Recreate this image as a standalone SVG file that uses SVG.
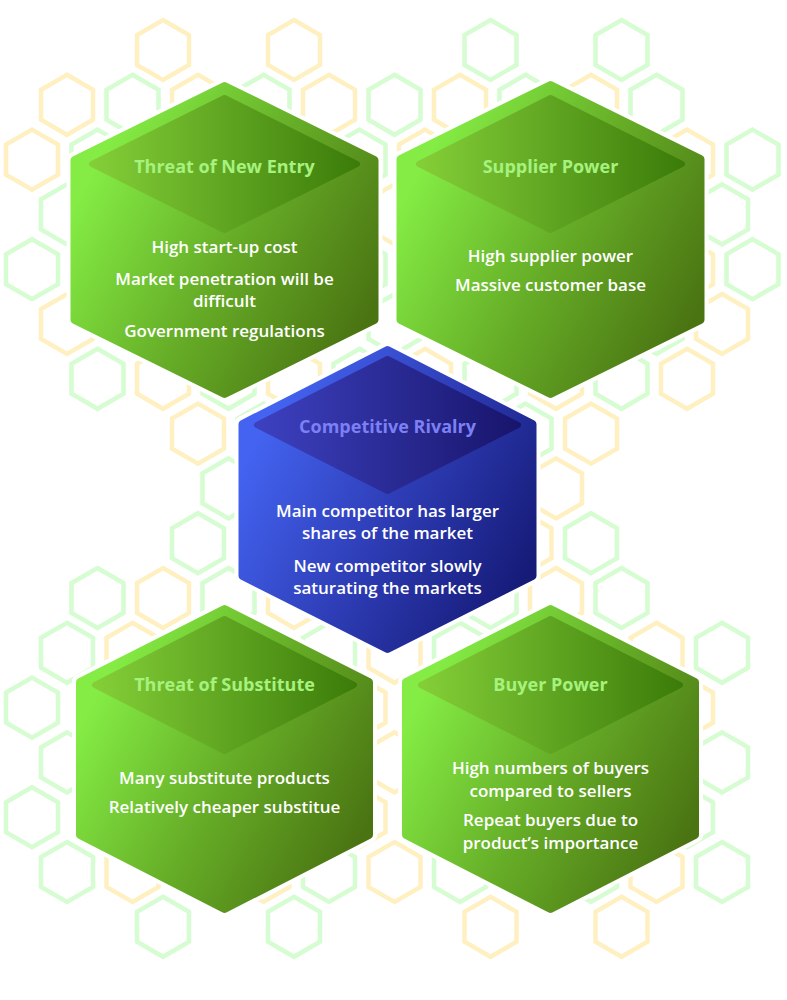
<svg xmlns="http://www.w3.org/2000/svg" xmlns:xlink="http://www.w3.org/1999/xlink" width="787" height="1000" viewBox="0 0 787 1000">
  <defs>
    <!-- small honeycomb cell used for the backdrop -->
    <path id="cell" d="M0,-30 L26,-15 L26,15 L0,30 L-26,15 L-26,-15Z"/>
    <linearGradient id="greenBody" x1="0.05" y1="0.3" x2="0.95" y2="0.8">
      <stop offset="0" stop-color="#84EC44"/>
      <stop offset="0.5" stop-color="#66AD27"/>
      <stop offset="1" stop-color="#4A7412"/>
    </linearGradient>
    <linearGradient id="greenCap" x1="0" y1="0" x2="1" y2="0">
      <stop offset="0" stop-color="#84CF38"/>
      <stop offset="1" stop-color="#3C7C0A"/>
    </linearGradient>
    <linearGradient id="blueBody" x1="0.05" y1="0.3" x2="0.95" y2="0.8">
      <stop offset="0" stop-color="#4363F0"/>
      <stop offset="0.5" stop-color="#2E3DB6"/>
      <stop offset="1" stop-color="#161B78"/>
    </linearGradient>
    <linearGradient id="blueCap" x1="0" y1="0" x2="1" y2="0">
      <stop offset="0" stop-color="#3D41C0"/>
      <stop offset="1" stop-color="#18156C"/>
    </linearGradient>
  </defs>
  <style>
    .cy { fill: none; stroke: #FFF0C2; stroke-width: 4.5; }
    .cg { fill: none; stroke: #D6FCD1; stroke-width: 4.5; }
    .halo { fill: #FFFFFF; stroke: #FFFFFF; stroke-width: 16; stroke-linejoin: round; }
    .gbody { fill: url(#greenBody); stroke: url(#greenBody); stroke-width: 8; stroke-linejoin: round; }
    .gcap { fill: url(#greenCap); stroke: url(#greenCap); stroke-width: 6; stroke-linejoin: round; }
    .bbody { fill: url(#blueBody); stroke: url(#blueBody); stroke-width: 8; stroke-linejoin: round; }
    .bcap { fill: url(#blueCap); stroke: url(#blueCap); stroke-width: 6; stroke-linejoin: round; }
    text { font-family: "Open Sans", "Liberation Sans", sans-serif; text-anchor: middle; }
    .head { font-size: 18px; font-weight: 700; }
    .ghead { fill: #A6F27E; }
    .bhead { fill: #7C80F4; }
    .body { font-size: 17px; font-weight: 600; fill: #FFFFFF; }
  </style>

  <rect width="787" height="1000" fill="#FFFFFF"/>

  <!-- honeycomb backdrop -->
  <g id="backdrop">
    <use href="#cell" x="163" y="50" class="cy"/>
    <use href="#cell" x="294" y="50" class="cy"/>
    <use href="#cell" x="490.5" y="50" class="cg"/>
    <use href="#cell" x="621.5" y="50" class="cg"/>

    <use href="#cell" x="67" y="104.8" class="cy"/>
    <use href="#cell" x="132.5" y="104.8" class="cg"/>
    <use href="#cell" x="198" y="104.8" class="cy"/>
    <use href="#cell" x="263.5" y="104.8" class="cg"/>
    <use href="#cell" x="329" y="104.8" class="cy"/>
    <use href="#cell" x="394.5" y="104.8" class="cg"/>
    <use href="#cell" x="460" y="104.8" class="cy"/>
    <use href="#cell" x="525.5" y="104.8" class="cg"/>
    <use href="#cell" x="591" y="104.8" class="cy"/>
    <use href="#cell" x="656.5" y="104.8" class="cg"/>

    <use href="#cell" x="32" y="159.6" class="cy"/>
    <use href="#cell" x="97.5" y="159.6" class="cg"/>
    <use href="#cell" x="359.5" y="159.6" class="cg"/>
    <use href="#cell" x="425" y="159.6" class="cy"/>
    <use href="#cell" x="687" y="159.6" class="cy"/>
    <use href="#cell" x="752.5" y="159.6" class="cg"/>

    <use href="#cell" x="67" y="214.4" class="cg"/>
    <use href="#cell" x="394.5" y="214.4" class="cy"/>
    <use href="#cell" x="722" y="214.4" class="cg"/>

    <use href="#cell" x="32" y="269.2" class="cg"/>
    <use href="#cell" x="359.5" y="269.2" class="cg"/>
    <use href="#cell" x="687" y="269.2" class="cy"/>
    <use href="#cell" x="752.5" y="269.2" class="cg"/>

    <use href="#cell" x="67" y="324" class="cy"/>
    <use href="#cell" x="394.5" y="324" class="cg"/>
    <use href="#cell" x="656.5" y="324" class="cg"/>
    <use href="#cell" x="722" y="324" class="cy"/>

    <use href="#cell" x="97.5" y="378.8" class="cg"/>
    <use href="#cell" x="163" y="378.8" class="cy"/>
    <use href="#cell" x="228.5" y="378.8" class="cg"/>
    <use href="#cell" x="294" y="378.8" class="cy"/>
    <use href="#cell" x="359.5" y="378.8" class="cg"/>
    <use href="#cell" x="425" y="378.8" class="cy"/>
    <use href="#cell" x="490.5" y="378.8" class="cg"/>
    <use href="#cell" x="556" y="378.8" class="cy"/>
    <use href="#cell" x="621.5" y="378.8" class="cg"/>
    <use href="#cell" x="687" y="378.8" class="cy"/>

    <use href="#cell" x="198" y="433.6" class="cy"/>
    <use href="#cell" x="263.5" y="433.6" class="cg"/>
    <use href="#cell" x="525.5" y="433.6" class="cg"/>
    <use href="#cell" x="591" y="433.6" class="cy"/>

    <use href="#cell" x="228.5" y="488.4" class="cg"/>
    <use href="#cell" x="556" y="488.4" class="cy"/>

    <use href="#cell" x="198" y="543.2" class="cg"/>
    <use href="#cell" x="525.5" y="543.2" class="cy"/>
    <use href="#cell" x="591" y="543.2" class="cg"/>

    <use href="#cell" x="97.5" y="598" class="cg"/>
    <use href="#cell" x="163" y="598" class="cy"/>
    <use href="#cell" x="228.5" y="598" class="cg"/>
    <use href="#cell" x="294" y="598" class="cy"/>
    <use href="#cell" x="490.5" y="598" class="cg"/>
    <use href="#cell" x="556" y="598" class="cy"/>
    <use href="#cell" x="621.5" y="598" class="cg"/>

    <use href="#cell" x="67" y="652.8" class="cg"/>
    <use href="#cell" x="132.5" y="652.8" class="cy"/>
    <use href="#cell" x="263.5" y="652.8" class="cy"/>
    <use href="#cell" x="329" y="652.8" class="cg"/>
    <use href="#cell" x="394.5" y="652.8" class="cy"/>
    <use href="#cell" x="460" y="652.8" class="cg"/>
    <use href="#cell" x="525.5" y="652.8" class="cy"/>
    <use href="#cell" x="656.5" y="652.8" class="cy"/>
    <use href="#cell" x="722" y="652.8" class="cg"/>

    <use href="#cell" x="32" y="707.6" class="cg"/>
    <use href="#cell" x="359.5" y="707.6" class="cy"/>
    <use href="#cell" x="687" y="707.6" class="cy"/>

    <use href="#cell" x="67" y="762.4" class="cg"/>
    <use href="#cell" x="394.5" y="762.4" class="cy"/>
    <use href="#cell" x="722" y="762.4" class="cg"/>

    <use href="#cell" x="32" y="817.2" class="cg"/>
    <use href="#cell" x="359.5" y="817.2" class="cy"/>
    <use href="#cell" x="687" y="817.2" class="cg"/>

    <use href="#cell" x="67" y="872" class="cg"/>
    <use href="#cell" x="132.5" y="872" class="cy"/>
    <use href="#cell" x="263.5" y="872" class="cy"/>
    <use href="#cell" x="329" y="872" class="cg"/>
    <use href="#cell" x="394.5" y="872" class="cy"/>
    <use href="#cell" x="460" y="872" class="cg"/>
    <use href="#cell" x="591" y="872" class="cg"/>
    <use href="#cell" x="656.5" y="872" class="cy"/>
    <use href="#cell" x="722" y="872" class="cg"/>

    <use href="#cell" x="163" y="926.8" class="cg"/>
    <use href="#cell" x="294" y="926.8" class="cg"/>
    <use href="#cell" x="490.5" y="926.8" class="cy"/>
    <use href="#cell" x="621.5" y="926.8" class="cy"/>
  </g>

  <!-- Threat of New Entry -->
  <g id="threat-new-entry">
    <path class="halo" d="M224.5,86 L374.5,160 L374.5,320 L224.5,394 L74.5,320 L74.5,160Z"/>
    <path class="gbody" d="M224.5,86 L374.5,160 L374.5,320 L224.5,394 L74.5,320 L74.5,160Z"/>
    <path class="gcap" d="M224.5,98 L357,164 L224.5,230 L92,164Z"/>
    <text class="head ghead" x="224.5" y="173">Threat of New Entry</text>
    <text class="body" x="224.5" y="253">High start-up cost</text>
    <text class="body" x="224.5" y="285">Market penetration will be</text>
    <text class="body" x="224.5" y="307">difficult</text>
    <text class="body" x="224.5" y="337">Government regulations</text>
  </g>

  <!-- Supplier Power -->
  <g id="supplier-power">
    <path class="halo" d="M550.5,85 L700.5,159 L700.5,320 L550.5,394 L400.5,320 L400.5,159Z"/>
    <path class="gbody" d="M550.5,85 L700.5,159 L700.5,320 L550.5,394 L400.5,320 L400.5,159Z"/>
    <path class="gcap" d="M550.5,98 L682,164 L550.5,230 L419,164Z"/>
    <text class="head ghead" x="550.5" y="173">Supplier Power</text>
    <text class="body" x="550.5" y="262">High supplier power</text>
    <text class="body" x="550.5" y="291">Massive customer base</text>
  </g>

  <!-- Competitive Rivalry -->
  <g id="competitive-rivalry">
    <path class="halo" d="M387.5,350 L532.5,424 L532.5,576 L387.5,649 L242.5,576 L242.5,424Z"/>
    <path class="bbody" d="M387.5,350 L532.5,424 L532.5,576 L387.5,649 L242.5,576 L242.5,424Z"/>
    <path class="bcap" d="M387.5,359 L518,425 L387.5,491 L257,425Z"/>
    <text class="head bhead" x="387.5" y="433">Competitive Rivalry</text>
    <text class="body" x="387.5" y="517">Main competitor has larger</text>
    <text class="body" x="387.5" y="539">shares of the market</text>
    <text class="body" x="387.5" y="572">New competitor slowly</text>
    <text class="body" x="387.5" y="594">saturating the markets</text>
  </g>

  <!-- Threat of Substitute -->
  <g id="threat-substitute">
    <path class="halo" d="M224.5,609 L369,682 L369,835 L224.5,909 L80,835 L80,682Z"/>
    <path class="gbody" d="M224.5,609 L369,682 L369,835 L224.5,909 L80,835 L80,682Z"/>
    <path class="gcap" d="M224.5,619 L354,685 L224.5,751 L95,685Z"/>
    <text class="head ghead" x="224.5" y="691">Threat of Substitute</text>
    <text class="body" x="224.5" y="784">Many substitute products</text>
    <text class="body" x="224.5" y="813">Relatively cheaper substitue</text>
  </g>

  <!-- Buyer Power -->
  <g id="buyer-power">
    <path class="halo" d="M550.5,609 L695,682 L695,835 L550.5,909 L406,835 L406,682Z"/>
    <path class="gbody" d="M550.5,609 L695,682 L695,835 L550.5,909 L406,835 L406,682Z"/>
    <path class="gcap" d="M550.5,619 L680,685 L550.5,751 L421,685Z"/>
    <text class="head ghead" x="550.5" y="691">Buyer Power</text>
    <text class="body" x="550.5" y="774">High numbers of buyers</text>
    <text class="body" x="550.5" y="797">compared to sellers</text>
    <text class="body" x="550.5" y="826">Repeat buyers due to</text>
    <text class="body" x="550.5" y="849">product’s importance</text>
  </g>
</svg>
